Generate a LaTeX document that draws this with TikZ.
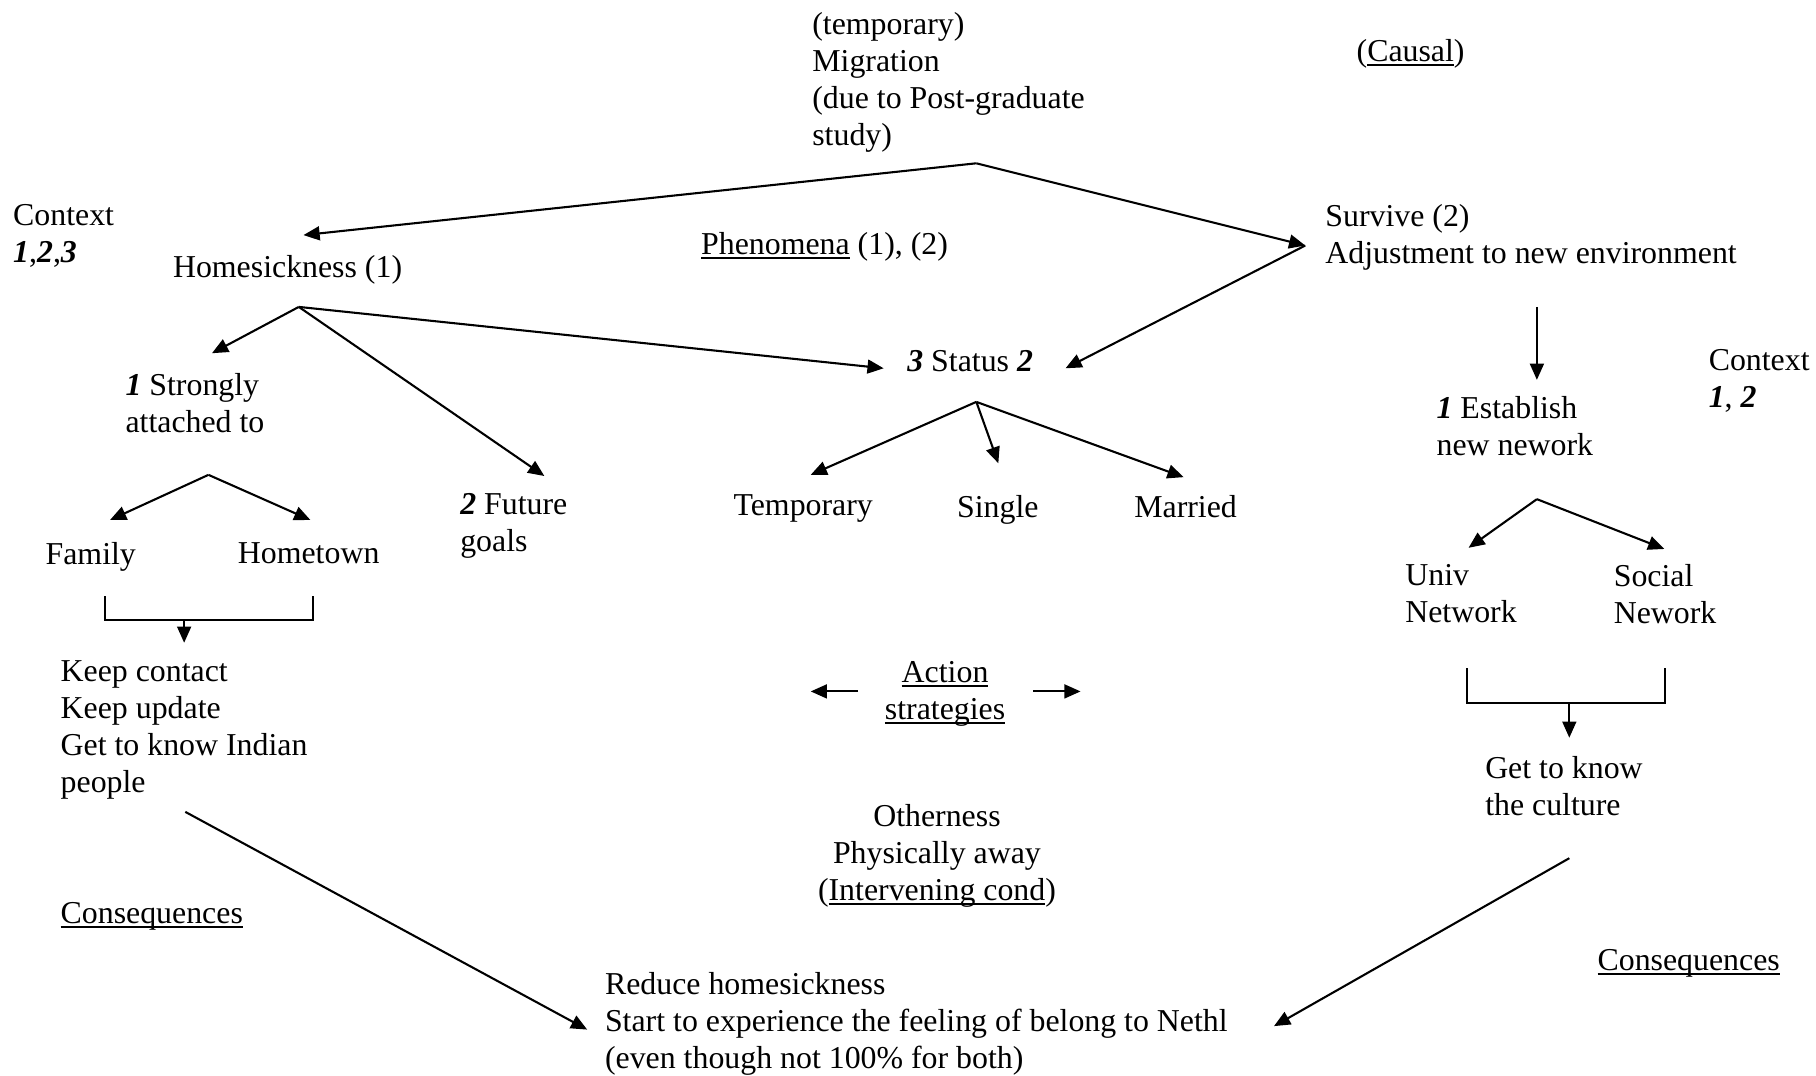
\documentclass[tikz,border=0pt]{standalone}
\usepackage{fontspec}
\setmainfont{Liberation Serif}
\usetikzlibrary{arrows.meta}

\newlength{\du}
\setlength{\du}{0.5pt}
\newcommand{\wul}[1]{\setbox0\hbox{#1}\rlap{\rule[-0.14em]{\wd0}{0.06em}}\box0\relax}
\newcommand{\bnum}[1]{\textbf{\textit{#1}}}

\tikzset{
  lbl/.style={anchor=north west, inner sep=0pt, align=left,
    font=\fontsize{13.75pt}{16pt}\selectfont},
  clbl/.style={lbl, anchor=north, align=center},
  conn/.style={line width=0.9pt, -{Triangle[length=7pt,width=6pt]}},
  link/.style={line width=0.85pt}
}

\begin{document}
\begin{tikzpicture}
\pgftransformyscale{-1.000000}
\useasboundingbox (0\du,0\du) rectangle (1568\du,929\du);
% labels
\node[lbl] (migr) at (701\du,10\du) {(temporary)\\Migration\\(due to Post-graduate\\study)};
\node[lbl] (causal) at (1171\du,34\du) {(\wul{Causal})};
\node[lbl] (ctxl) at (11\du,176\du) {Context\\\bnum{1},\bnum{2},\bnum{3}};
\node[lbl] (home) at (149\du,220\du) {Homesickness (1)};
\node[lbl] (phen) at (605\du,200\du) {\wul{Phenomena} (1), (2)};
\node[lbl] (surv) at (1144\du,176\du) {Survive (2)\\Adjustment to new environment};
\node[lbl] (status) at (783\du,302\du) {\bnum{3} Status \bnum{2}};
\node[lbl] (ctxr) at (1475\du,301\du) {Context\\\bnum{1}, \bnum{2}};
\node[lbl] (strong) at (108\du,322\du) {\bnum{1} Strongly\\attached to};
\node[lbl] (estab) at (1240\du,342\du) {\bnum{1} Establish\\new nework};
\node[lbl] (temp) at (633\du,427\du) {Temporary};
\node[lbl] (single) at (826\du,427\du) {Single};
\node[lbl] (married) at (979\du,427\du) {Married};
\node[lbl] (future) at (397\du,426\du) {\bnum{2} Future\\goals};
\node[lbl] (family) at (39\du,468\du) {Family};
\node[lbl] (hometown) at (205\du,468\du) {Hometown};
\node[lbl] (univ) at (1213\du,487\du) {Univ\\Network};
\node[lbl] (social) at (1393\du,487\du) {Social\\Nework};
\node[lbl] (keep) at (52\du,570\du) {Keep contact\\Keep update\\Get to know Indian\\people};
\node[clbl] (action) at (816\du,571\du) {\wul{Action}\\\wul{strategies}};
\node[lbl] (culture) at (1282\du,653\du) {Get to know\\the culture};
\node[clbl] (other) at (809\du,694\du) {Otherness\\Physically away\\(\wul{Intervening cond})};
\node[lbl] (consl) at (52\du,779\du) {\wul{Consequences}};
\node[lbl] (consr) at (1379\du,819\du) {\wul{Consequences}};
\node[lbl] (reduce) at (522\du,839\du) {Reduce homesickness\\Start to experience the feeling of belong to Nethl\\(even though not 100\% for both)};
% arrow ends
\coordinate (migr-apex) at (843\du,141\du);
\coordinate (home-in) at (262\du,203\du);
\coordinate (surv-in) at (1127\du,212\du);
\coordinate (status-in-r) at (920\du,318\du);
\coordinate (home-apex) at (258\du,265\du);
\coordinate (strong-in) at (183\du,305\du);
\coordinate (future-in) at (470\du,411\du);
\coordinate (status-in-l) at (763\du,318\du);
\coordinate (status-apex) at (843\du,347\du);
\coordinate (temp-in) at (700\du,410\du);
\coordinate (single-in) at (862\du,400\du);
\coordinate (married-in) at (1022\du,412\du);
\coordinate (surv-down) at (1327\du,265\du);
\coordinate (estab-in) at (1327\du,328\du);
\coordinate (strong-apex) at (180\du,410\du);
\coordinate (family-in) at (95\du,449\du);
\coordinate (hometown-in) at (268\du,449\du);
\coordinate (estab-apex) at (1327\du,431\du);
\coordinate (univ-in) at (1268\du,473\du);
\coordinate (social-in) at (1437\du,474\du);
\coordinate (lbr-l) at (91\du,515\du);
\coordinate (lbr-r) at (270\du,515\du);
\coordinate (lbr-mid) at (159\du,535\du);
\coordinate (keep-in) at (159\du,555\du);
\coordinate (rbr-l) at (1267\du,577\du);
\coordinate (rbr-r) at (1438\du,577\du);
\coordinate (rbr-mid) at (1355\du,607\du);
\coordinate (culture-in) at (1355\du,637\du);
\coordinate (action-l) at (741\du,597\du);
\coordinate (action-lt) at (700\du,597\du);
\coordinate (action-r) at (892\du,597\du);
\coordinate (action-rt) at (933\du,597\du);
\coordinate (keep-out) at (160\du,701\du);
\coordinate (reduce-in-l) at (507\du,889\du);
\coordinate (culture-out) at (1355\du,741\du);
\coordinate (reduce-in-r) at (1100\du,886\du);
% connectors
\draw[conn] (migr-apex) -- (home-in);
\draw[conn] (migr-apex) -- (surv-in);
\draw[conn] (surv-in) -- (status-in-r);
\draw[conn] (home-apex) -- (strong-in);
\draw[conn] (home-apex) -- (future-in);
\draw[conn] (home-apex) -- (status-in-l);
\draw[conn] (status-apex) -- (temp-in);
\draw[conn] (status-apex) -- (single-in);
\draw[conn] (status-apex) -- (married-in);
\draw[conn] (surv-down) -- (estab-in);
\draw[conn] (strong-apex) -- (family-in);
\draw[conn] (strong-apex) -- (hometown-in);
\draw[conn] (estab-apex) -- (univ-in);
\draw[conn] (estab-apex) -- (social-in);
\draw[link] (lbr-l) |- (lbr-mid) -| (lbr-r);
\draw[conn] (lbr-mid) -- (keep-in);
\draw[link] (rbr-l) |- (rbr-mid) -| (rbr-r);
\draw[conn] (rbr-mid) -- (culture-in);
\draw[conn] (action-l) -- (action-lt);
\draw[conn] (action-r) -- (action-rt);
\draw[conn] (keep-out) -- (reduce-in-l);
\draw[conn] (culture-out) -- (reduce-in-r);
\end{tikzpicture}
\end{document}
